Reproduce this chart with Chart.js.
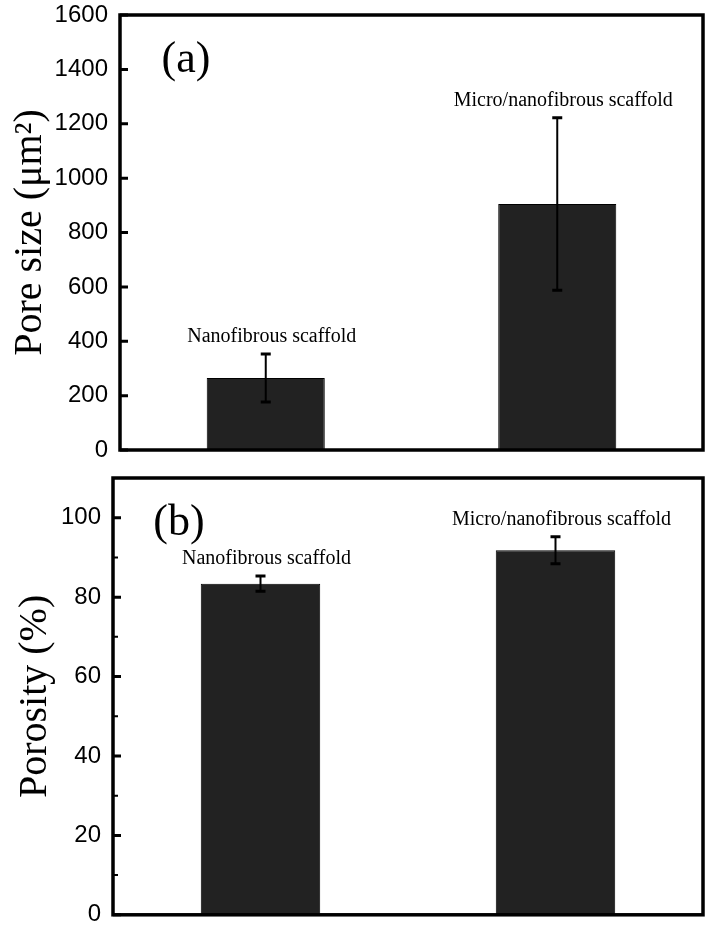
<!DOCTYPE html>
<html>
<head>
<meta charset="utf-8">
<script src="https://cdn.jsdelivr.net/npm/chart.js@4.4.1/dist/chart.umd.min.js"></script>
<style>
  html, body { margin: 0; padding: 0; background: #fff; }
  #wrap { position: relative; width: 710px; height: 928px; }
  .box { position: absolute; left: 0; width: 710px; height: 464px; }
</style>
</head>
<body>
<div id="wrap">
  <div class="box" style="top:0"><canvas id="cA"></canvas></div>
  <div class="box" style="top:464px"><canvas id="cB"></canvas></div>
</div>
<script>
// ---- data ----
const categories = ["Nanofibrous scaffold", "Micro/nanofibrous scaffold"];
const poreSize = [265, 905];
const poreSizeErr = [88, 317];
const porosity = [83.4, 91.8];
const porosityErr = [1.9, 3.4];
const poreTicks = [0, 200, 400, 600, 800, 1000, 1200, 1400, 1600];
const porosityTicks = [0, 20, 40, 60, 80, 100];
const porosityMinorTicks = [10, 30, 50, 70, 90];

const SERIF = "'Liberation Serif', 'Times New Roman', serif";
const SANS = "'Liberation Sans', Arial, sans-serif";

function makeDecorPlugin(errs, panelLabel, minorTicks) {
  return {
    id: 'decor',
    afterDatasetsDraw(chart) {
      const ctx = chart.ctx;
      const ca = chart.chartArea;
      const ys = chart.scales.y;
      const meta = chart.getDatasetMeta(0);
      const vals = chart.data.datasets[0].data;
      ctx.save();
      // error bars
      meta.data.forEach((bar, i) => {
        const yT = ys.getPixelForValue(vals[i] + errs[i]);
        const yB = ys.getPixelForValue(vals[i] - errs[i]);
        ctx.strokeStyle = '#000';
        ctx.lineWidth = 2;
        ctx.beginPath();
        ctx.moveTo(bar.x, yT); ctx.lineTo(bar.x, yB);
        ctx.stroke();
        ctx.lineWidth = 3;
        ctx.beginPath();
        ctx.moveTo(bar.x - 5, yT); ctx.lineTo(bar.x + 5, yT);
        ctx.moveTo(bar.x - 5, yB); ctx.lineTo(bar.x + 5, yB);
        ctx.stroke();
        // category label above error bar
        ctx.fillStyle = '#000';
        ctx.font = "20px " + SERIF;
        ctx.textAlign = 'center';
        ctx.textBaseline = 'middle';
        ctx.fillText(chart.data.labels[i], bar.x + 6, yT - 17);
      });
      // frame
      ctx.strokeStyle = '#000';
      ctx.lineWidth = 3.5;
      ctx.strokeRect(ca.left, ca.top, ca.right - ca.left, ca.bottom - ca.top);
      // inward ticks
      ctx.lineWidth = 3;
      ctx.beginPath();
      ys.ticks.forEach(t => {
        const y = ys.getPixelForValue(t.value);
        ctx.moveTo(ca.left, y); ctx.lineTo(ca.left + 8, y);
      });
      ctx.stroke();
      if (minorTicks) {
        ctx.lineWidth = 2;
        ctx.beginPath();
        minorTicks.forEach(v => {
          const y = ys.getPixelForValue(v);
          ctx.moveTo(ca.left, y); ctx.lineTo(ca.left + 5, y);
        });
        ctx.stroke();
      }
      // panel label
      ctx.fillStyle = '#000';
      ctx.font = "44px " + SERIF;
      ctx.textAlign = 'center';
      ctx.textBaseline = 'middle';
      ctx.fillText(panelLabel, ca.left + 66, ca.top + 45);
      ctx.restore();
    }
  };
}

function makeChart(id, values, errs, ticks, minorTicks, yMax, axisWidth, titleText, titlePad, panelLabel, padTop, padBottom) {
  return new Chart(document.getElementById(id), {
    type: 'bar',
    data: {
      labels: categories,
      datasets: [{
        data: values,
        backgroundColor: '#222222',
        borderColor: '#000000',
        borderWidth: 1,
        barPercentage: 0.405,
        categoryPercentage: 1.0
      }]
    },
    options: {
      responsive: true,
      maintainAspectRatio: false,
      animation: false,
      layout: { padding: { left: 0, right: 7, top: padTop, bottom: padBottom } },
      plugins: { legend: { display: false }, tooltip: { enabled: false } },
      scales: {
        x: { display: false },
        y: {
          min: 0, max: yMax,
          afterFit(scale) { scale.width = axisWidth; },
          afterBuildTicks(scale) { scale.ticks = ticks.map(v => ({ value: v })); },
          grid: { display: false, drawTicks: false },
          border: { display: false },
          ticks: {
            padding: 12,
            color: '#000',
            font: { family: SANS, size: 24, lineHeight: 0.1 },
            callback: (v) => String(v)
          },
          title: {
            display: true,
            text: titleText,
            color: '#000',
            padding: { top: titlePad, bottom: 0 },
            font: { family: SERIF, size: 40, lineHeight: 1.2 }
          }
        }
      }
    },
    plugins: [makeDecorPlugin(errs, panelLabel, minorTicks)]
  });
}

makeChart('cA', poreSize, poreSizeErr, poreTicks, null, 1600, 120, 'Pore size (\u03bcm\u00b2)', 6, '(a)', 15, 14);
makeChart('cB', porosity, porosityErr, porosityTicks, porosityMinorTicks, 110, 113, 'Porosity (%)', 11, '(b)', 14, 13);
</script>
</body>
</html>
